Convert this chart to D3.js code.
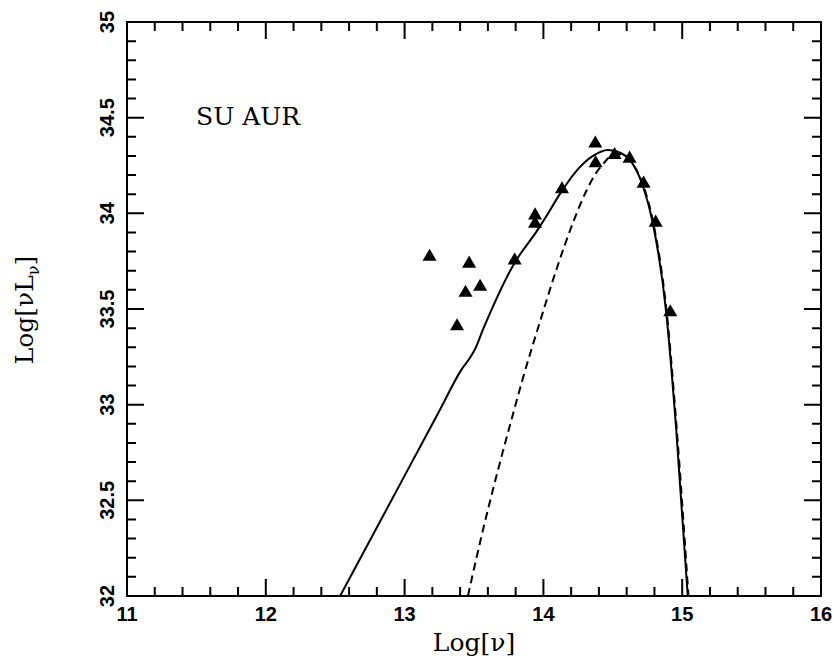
<!DOCTYPE html>
<html>
<head>
<meta charset="utf-8">
<script src="https://cdn.jsdelivr.net/npm/d3@7"></script>
<style>
  body { margin: 0; background: #fff; }
  svg { display: block; }
</style>
</head>
<body>
<svg id="drawing_region"></svg>
<script>
// observed points (triangles)
var obs_x = [13.18, 13.465, 13.544, 13.439, 13.378, 13.793, 13.94, 13.94, 14.134, 14.374, 14.376, 14.513, 14.621, 14.722, 14.809, 14.914];
var obs_y = [33.773, 33.737, 33.616, 33.585, 33.41, 33.754, 33.989, 33.946, 34.126, 34.365, 34.262, 34.305, 34.286, 34.155, 33.951, 33.483];

// model, total (solid)
var total_x = [12.535, 12.8, 13.038, 13.25, 13.41, 13.47, 13.506, 13.565, 13.793, 13.961, 14.022, 14.117, 14.237, 14.357, 14.465, 14.561, 14.645, 14.717, 14.788, 14.885, 14.957, 15.04];
var total_y = [32.0, 32.358, 32.68, 32.967, 33.183, 33.244, 33.288, 33.393, 33.742, 33.916, 33.986, 34.099, 34.221, 34.3, 34.331, 34.314, 34.257, 34.143, 33.951, 33.48, 32.869, 32.0];

// model, photosphere (dashed)
var star_x = [13.456, 13.565, 13.686, 13.77, 13.853, 13.973, 14.094, 14.213, 14.309, 14.381, 14.429, 14.49, 14.563, 14.648, 14.722, 14.792, 14.89, 14.962, 15.045];
var star_y = [32.0, 32.346, 32.695, 32.921, 33.14, 33.428, 33.707, 33.951, 34.117, 34.213, 34.257, 34.3, 34.309, 34.255, 34.14, 33.95, 33.47, 32.86, 32.0];

var x_ticks = [11, 12, 13, 14, 15, 16];
var y_ticks = [32, 32.5, 33, 33.5, 34, 34.5, 35];

var config = {
    width: 834,
    height: 663,
    margin: {top: 22, right: 13, bottom: 67, left: 127}
};

var svg = d3.select('#drawing_region')
    .attr('width', config.width)
    .attr('height', config.height);

var inner_width = config.width - config.margin.left - config.margin.right;
var inner_height = config.height - config.margin.top - config.margin.bottom;

var chart = svg.append('g')
    .attr('transform', `translate(${config.margin.left}, ${config.margin.top})`);

var xscale = d3.scaleLinear().domain([11, 16]).range([0, inner_width]);
var yscale = d3.scaleLinear().domain([32, 35]).range([inner_height, 0]);

// frame
chart.append('rect')
    .attr('x', 0).attr('y', 0)
    .attr('width', inner_width).attr('height', inner_height)
    .attr('fill', 'none').attr('stroke', '#000').attr('stroke-width', 2);

// ticks on all four sides, pointing inward, built into one path
var x_minor = d3.range(0, 26).map(i => 11 + i * 0.2);
var y_minor = d3.range(0, 31).map(i => 32 + i * 0.1);

var tp = d3.path();
x_minor.forEach(v => {
    var len = x_ticks.indexOf(Math.round(v * 10) / 10) >= 0 ? 17 : 9;
    tp.moveTo(xscale(v), inner_height); tp.lineTo(xscale(v), inner_height - len);
    tp.moveTo(xscale(v), 0); tp.lineTo(xscale(v), len);
});
y_minor.forEach(v => {
    var len = y_ticks.indexOf(Math.round(v * 10) / 10) >= 0 ? 17 : 9;
    tp.moveTo(0, yscale(v)); tp.lineTo(len, yscale(v));
    tp.moveTo(inner_width, yscale(v)); tp.lineTo(inner_width - len, yscale(v));
});

chart.append('path')
    .attr('d', tp.toString())
    .attr('fill', 'none').attr('stroke', '#000').attr('stroke-width', 2);

// tick labels
chart.append('g').selectAll('text').data(x_ticks).join('text')
    .attr('x', d => xscale(d))
    .attr('y', inner_height + 25)
    .attr('text-anchor', 'middle')
    .style('font-family', '"Liberation Sans", Arial, sans-serif')
    .style('font-weight', 'bold')
    .style('font-size', '20px')
    .text(d => d);

chart.append('g').selectAll('text').data(y_ticks).join('text')
    .attr('transform', d => `translate(-13, ${yscale(d)}) rotate(-90)`)
    .attr('text-anchor', 'middle')
    .style('font-family', '"Liberation Sans", Arial, sans-serif')
    .style('font-weight', 'bold')
    .style('font-size', '20px')
    .text(d => d);

var line = d3.line()
    .x(d => xscale(d[0]))
    .y(d => yscale(d[1]))
    .curve(d3.curveMonotoneX);

chart.append('path')
    .datum(d3.zip(total_x, total_y))
    .attr('d', line)
    .attr('fill', 'none').attr('stroke', '#000').attr('stroke-width', 2);

chart.append('path')
    .datum(d3.zip(star_x, star_y))
    .attr('d', line)
    .attr('fill', 'none').attr('stroke', '#000').attr('stroke-width', 2)
    .attr('stroke-dasharray', '8,5');

chart.selectAll('.obs').data(d3.zip(obs_x, obs_y)).join('path')
    .attr('class', 'obs')
    .attr('d', d3.symbol(d3.symbolTriangle, 85))
    .attr('transform', d => `translate(${xscale(d[0])}, ${yscale(d[1])})`)
    .attr('fill', '#000');

// labels
chart.append('text')
    .attr('x', 69).attr('y', 103)
    .style('font-family', '"DejaVu Serif", "Liberation Serif", serif')
    .style('font-size', '25px')
    .text('SU AUR');

svg.append('text')
    .attr('x', config.margin.left + inner_width / 2)
    .attr('y', 651)
    .attr('text-anchor', 'middle')
    .style('font-family', '"DejaVu Serif", "Liberation Serif", serif')
    .style('font-size', '25px')
    .text('Log[ν]');

var ytitle = svg.append('text')
    .attr('transform', 'translate(33, 310) rotate(-90)')
    .attr('text-anchor', 'middle')
    .style('font-family', '"DejaVu Serif", "Liberation Serif", serif')
    .style('font-size', '25px');
ytitle.append('tspan').text('Log[νL');
ytitle.append('tspan').attr('dy', 6).style('font-size', '16px').text('ν');
ytitle.append('tspan').attr('dy', -6).text(']');
</script>
</body>
</html>
